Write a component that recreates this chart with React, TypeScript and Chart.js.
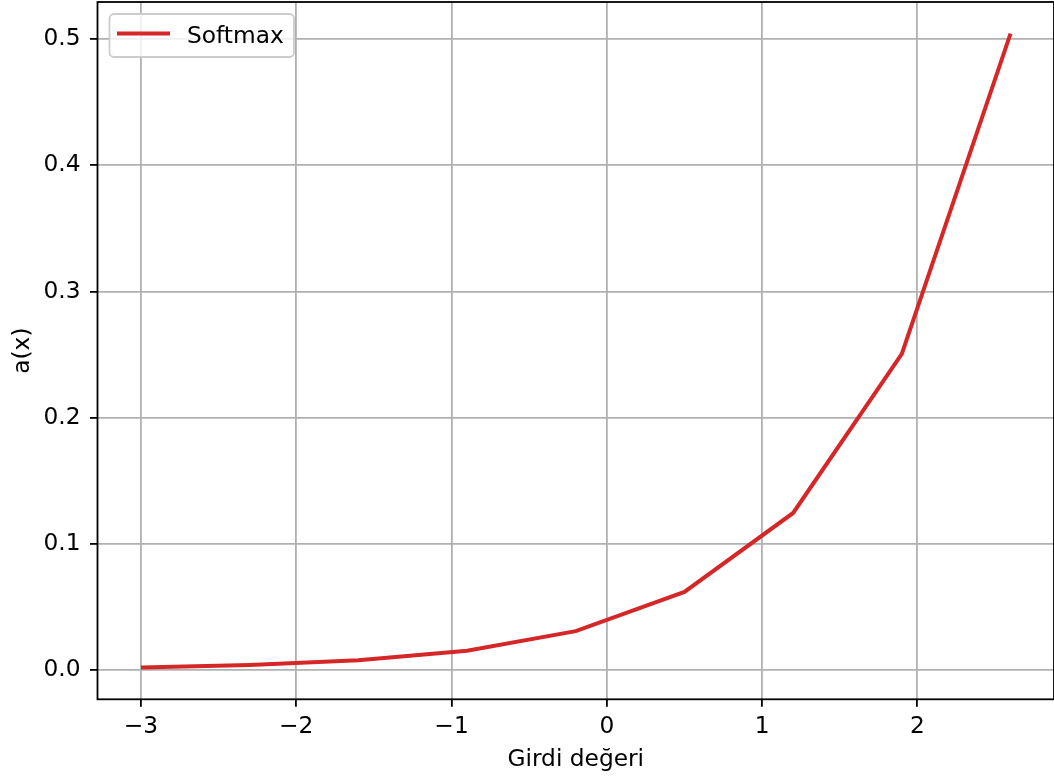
import React, { useEffect, useRef } from "react";
import { Chart, registerables } from "chart.js";

Chart.register(...registerables);

const xValues = [-3, -2.3, -1.6, -0.9, -0.2, 0.5, 1.2, 1.9, 2.6];
const softmaxValues = [0.0019, 0.0038, 0.0076, 0.0152, 0.0307, 0.0618, 0.1244, 0.2505, 0.5044];
const xTicks = [-3, -2, -1, 0, 1, 2];
const yTicks = [0, 0.1, 0.2, 0.3, 0.4, 0.5];
const seriesLabel = "Softmax";
const xTitle = "Girdi değeri";
const yTitle = "a(x)";

const FONT = "DejaVu Sans";
const FS = 23.3;

const framePlugin = {
  id: "frame",
  afterDatasetsDraw(chart: any) {
    const { ctx, chartArea } = chart;
    ctx.save();
    ctx.strokeStyle = "#000000";
    ctx.lineWidth = 1.8;
    ctx.strokeRect(chartArea.left, chartArea.top, chartArea.right - chartArea.left, chartArea.bottom - chartArea.top);
    ctx.restore();
  },
};

const legendPlugin = {
  id: "mplLegend",
  afterDraw(chart: any) {
    const { ctx, chartArea } = chart;
    const ds = chart.data.datasets[0];
    const x = chartArea.left + 12;
    const y = chartArea.top + 12;
    const w = 184.5;
    const h = 43;
    const r = 4.5;
    ctx.save();
    ctx.beginPath();
    ctx.moveTo(x + r, y);
    ctx.lineTo(x + w - r, y);
    ctx.arcTo(x + w, y, x + w, y + r, r);
    ctx.lineTo(x + w, y + h - r);
    ctx.arcTo(x + w, y + h, x + w - r, y + h, r);
    ctx.lineTo(x + r, y + h);
    ctx.arcTo(x, y + h, x, y + h - r, r);
    ctx.lineTo(x, y + r);
    ctx.arcTo(x, y, x + r, y, r);
    ctx.closePath();
    ctx.fillStyle = "rgba(255,255,255,0.8)";
    ctx.fill();
    ctx.strokeStyle = "#cccccc";
    ctx.lineWidth = 1.8;
    ctx.stroke();
    const ly = y + 19.5;
    ctx.beginPath();
    ctx.moveTo(x + 7.5, ly);
    ctx.lineTo(x + 60.5, ly);
    ctx.strokeStyle = ds.borderColor;
    ctx.lineWidth = 4;
    ctx.stroke();
    ctx.fillStyle = "#000000";
    ctx.font = `${FS}px "${FONT}"`;
    ctx.textAlign = "left";
    ctx.textBaseline = "alphabetic";
    ctx.fillText(ds.label, x + 77.5, y + 28.5);
    ctx.restore();
  },
};

export default function App() {
  const ref = useRef<HTMLCanvasElement>(null);

  useEffect(() => {
    if (!ref.current) return;
    const chart = new Chart(ref.current, {
      type: "line",
      data: {
        datasets: [
          {
            label: seriesLabel,
            data: xValues.map((x, i) => ({ x, y: softmaxValues[i] })),
            borderColor: "#d62728",
            backgroundColor: "#d62728",
            borderWidth: 4,
            pointRadius: 0,
            tension: 0,
            fill: false,
          },
        ],
      },
      options: {
        animation: false,
        responsive: false,
        devicePixelRatio: 1,
        layout: { autoPadding: false, padding: { left: 0, top: 2, right: -1, bottom: 0 } },
        plugins: {
          legend: { display: false },
          title: { display: false },
          tooltip: { enabled: false },
        },
        scales: {
          x: {
            type: "linear",
            min: -3.28,
            max: 2.88,
            afterFit: (s: any) => {
              s.height = 78.7;
              s.paddingLeft = 0;
              s.paddingRight = 0;
              s.paddingTop = 0;
              s.paddingBottom = 0;
            },
            afterBuildTicks: (s: any) => {
              s.ticks = xTicks.map((v) => ({ value: v }));
            },
            grid: {
              color: "#b0b0b0",
              lineWidth: 1.8,
              drawTicks: true,
              tickLength: 7.5,
              tickColor: "#000000",
              tickWidth: 1.8,
            },
            border: { display: false },
            ticks: {
              autoSkip: false,
              maxRotation: 0,
              padding: 6.5,
              color: "#000000",
              font: { family: FONT, size: FS },
              callback: (v: any) => {
                const n = Number(v);
                return n < 0 ? "\u2212" + Math.abs(n).toString() : n.toString();
              },
            },
            title: {
              display: true,
              text: xTitle,
              color: "#000000",
              font: { family: FONT, size: FS },
              padding: { top: 0, bottom: 4.5 },
            },
          },
          y: {
            type: "linear",
            min: -0.0233,
            max: 0.5295,
            afterFit: (s: any) => {
              s.width = 97.5;
              s.paddingLeft = 0;
              s.paddingRight = 0;
              s.paddingTop = 0;
              s.paddingBottom = 0;
            },
            afterBuildTicks: (s: any) => {
              s.ticks = yTicks.map((v) => ({ value: v }));
            },
            grid: {
              color: "#b0b0b0",
              lineWidth: 1.8,
              drawTicks: true,
              tickLength: 7.5,
              tickColor: "#000000",
              tickWidth: 1.8,
            },
            border: { display: false },
            ticks: {
              autoSkip: false,
              padding: 9.5,
              color: "#000000",
              font: { family: FONT, size: FS },
              callback: (v: any) => Number(v).toFixed(1),
            },
            title: {
              display: true,
              text: yTitle,
              color: "#000000",
              font: { family: FONT, size: FS },
              padding: { top: 8.5, bottom: 0 },
            },
          },
        },
      },
      plugins: [framePlugin, legendPlugin],
    } as any);
    return () => chart.destroy();
  }, []);

  return (
    <div style={{ position: "absolute", left: 0, top: 0, width: 1054, height: 778, background: "#ffffff" }}>
      <canvas ref={ref} width={1054} height={778} style={{ display: "block", width: 1054, height: 778 }} />
    </div>
  );
}
